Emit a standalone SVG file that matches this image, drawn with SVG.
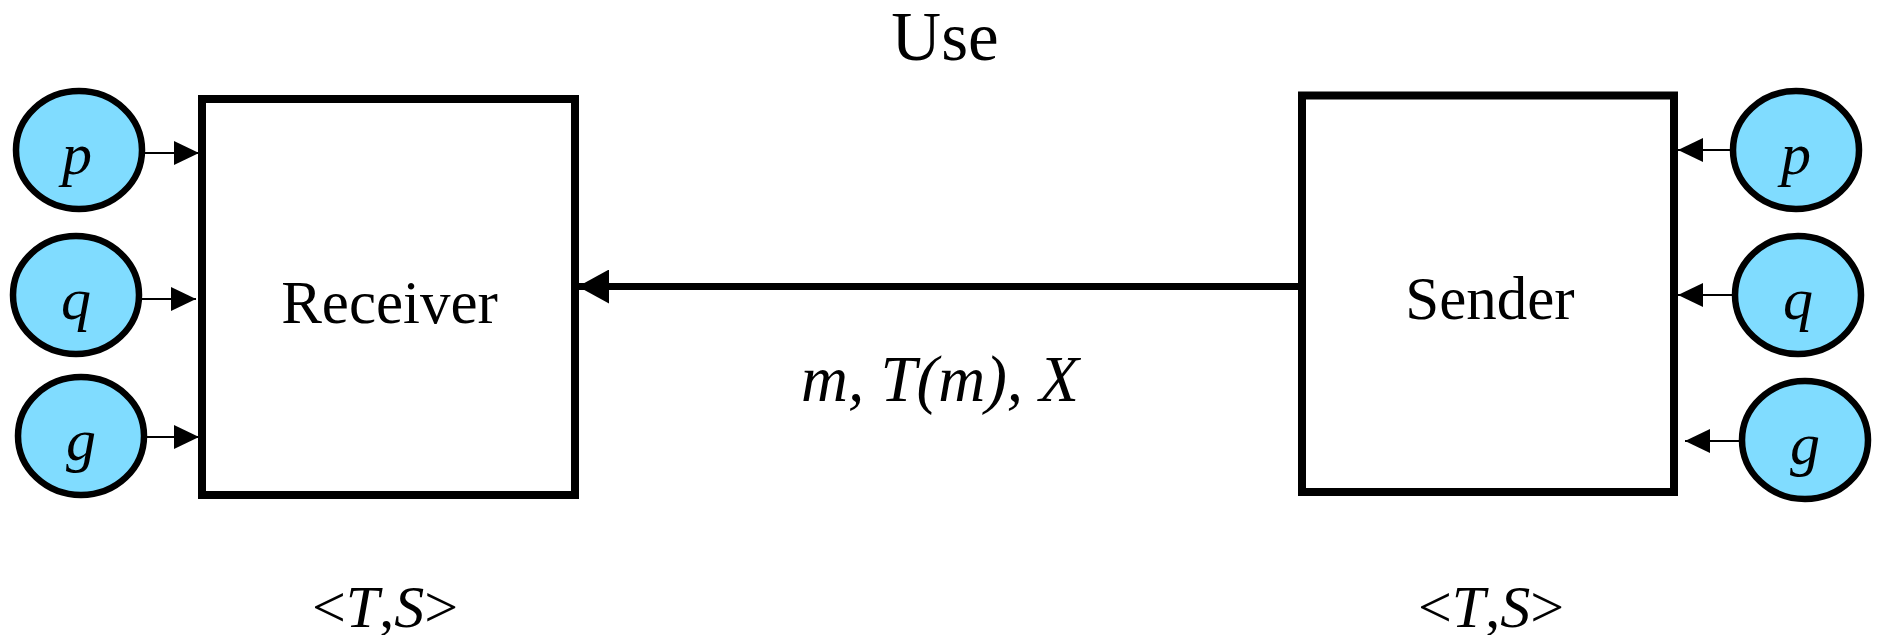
<svg xmlns="http://www.w3.org/2000/svg" width="1879" height="635" viewBox="0 0 1879 635">
<style>
.box{fill:#fff;stroke:#000;stroke-width:8}
.port{fill:#80dcff;stroke:#000;stroke-width:6.5}
.t{font-family:"Liberation Serif","Times New Roman",serif;fill:#000}
.it{font-style:italic}
.thin{stroke:#000;stroke-width:2;fill:none}
.thick{stroke:#000;stroke-width:7;fill:none}
</style>
<defs>
<marker id="ah" viewBox="0 0 25 24" refX="25" refY="12" markerWidth="25" markerHeight="24" markerUnits="userSpaceOnUse" orient="auto">
<path d="M0,0 L25,12 L0,24 Z" fill="#000"/>
</marker>
<marker id="ahb" viewBox="0 0 31 34" refX="31" refY="17" markerWidth="31" markerHeight="34" markerUnits="userSpaceOnUse" orient="auto">
<path d="M0,0 L31,17 L0,34 Z" fill="#000"/>
</marker>
</defs>
<rect width="1879" height="635" fill="#fff"/>
<text class="t" x="945" y="60" font-size="69" text-anchor="middle">Use</text>
<g id="receiver">
<rect class="box" x="202" y="99" width="373" height="396"/>
<text class="t" x="389.5" y="323" font-size="61" text-anchor="middle">Receiver</text>
<text class="t" x="385" y="627" font-size="60" text-anchor="middle">&lt;<tspan class="it">T</tspan>,<tspan class="it">S</tspan>&gt;</text>
</g>
<g id="sender">
<rect class="box" x="1302" y="95.5" width="372" height="396.5"/>
<text class="t" x="1490" y="319" font-size="61" text-anchor="middle">Sender</text>
<text class="t" x="1491" y="627" font-size="60" text-anchor="middle">&lt;<tspan class="it">T</tspan>,<tspan class="it">S</tspan>&gt;</text>
</g>
<g id="rp"><ellipse class="port" cx="79" cy="150" rx="63" ry="59"/><text class="t it" x="77" y="174" font-size="60" text-anchor="middle">p</text></g>
<g id="rq"><ellipse class="port" cx="76" cy="295" rx="63" ry="59"/><text class="t it" x="76" y="319" font-size="60" text-anchor="middle">q</text></g>
<g id="rg"><ellipse class="port" cx="81" cy="436" rx="63" ry="59"/><text class="t it" x="81" y="460" font-size="60" text-anchor="middle">g</text></g>
<g id="sp"><ellipse class="port" cx="1796" cy="150" rx="63" ry="59"/><text class="t it" x="1796" y="174" font-size="60" text-anchor="middle">p</text></g>
<g id="sq"><ellipse class="port" cx="1798" cy="295" rx="63" ry="59"/><text class="t it" x="1798" y="319" font-size="60" text-anchor="middle">q</text></g>
<g id="sg"><ellipse class="port" cx="1805" cy="440" rx="63" ry="59"/><text class="t it" x="1805" y="464" font-size="60" text-anchor="middle">g</text></g>
<g id="connectors">
<line class="thin" x1="145" y1="153" x2="199" y2="153" marker-end="url(#ah)"/>
<line class="thin" x1="142" y1="299" x2="196" y2="299" marker-end="url(#ah)"/>
<line class="thin" x1="147" y1="437" x2="199" y2="437" marker-end="url(#ah)"/>
<line class="thin" x1="1730" y1="150" x2="1678" y2="150" marker-end="url(#ah)"/>
<line class="thin" x1="1732" y1="295" x2="1678" y2="295" marker-end="url(#ah)"/>
<line class="thin" x1="1739" y1="441" x2="1685" y2="441" marker-end="url(#ah)"/>
<line class="thick" x1="1302" y1="286.5" x2="578" y2="286.5" marker-end="url(#ahb)"/>
<text class="t it" x="940" y="401" font-size="65" text-anchor="middle">m, T(m), X</text>
</g>
</svg>
